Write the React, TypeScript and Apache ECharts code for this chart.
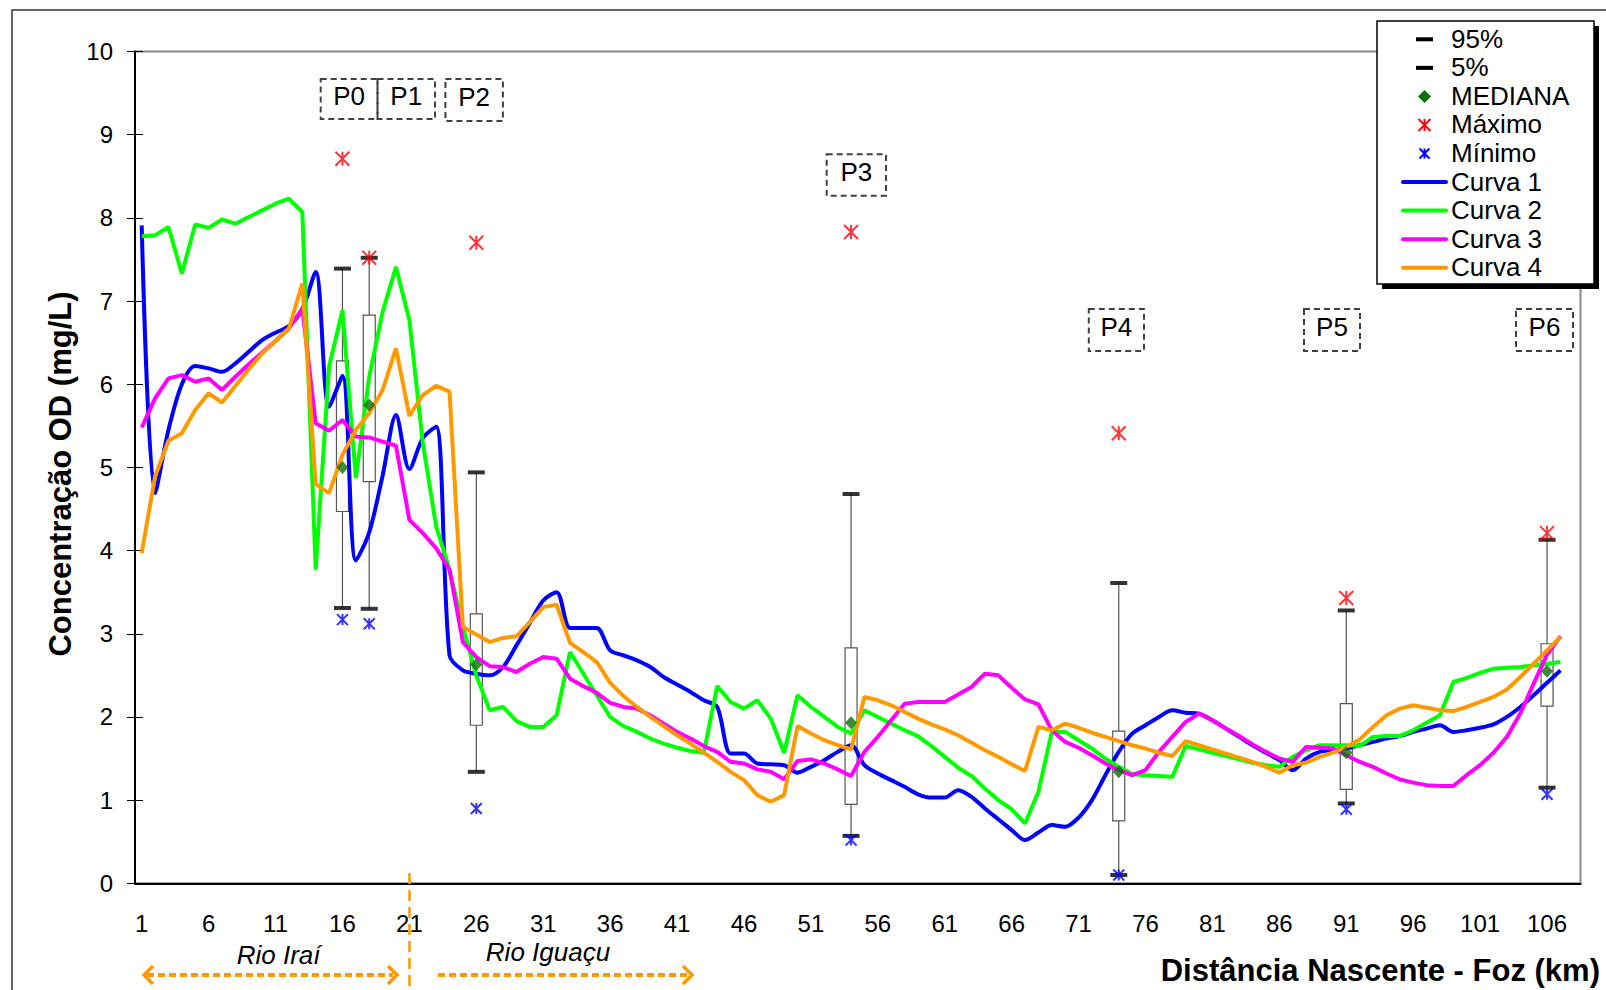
import React, { useEffect, useRef } from 'react';
import * as echarts from 'echarts';

// ---------- DATA ----------
const KM_CATEGORIES: string[] = Array.from({ length: 108 }, (_, i) => String(i + 1));

const CURVA_1 = [
  7.91, 4.69, 5.45, 6.0, 6.22, 6.19, 6.15, 6.25, 6.39, 6.53,
  6.62, 6.70, 6.90, 7.35, 5.73, 6.10, 3.88, 4.22, 4.90, 5.63,
  4.98, 5.35, 5.49, 2.74, 2.56, 2.52, 2.50, 2.60, 2.86, 3.13,
  3.40, 3.50, 3.07, 3.07, 3.07, 2.80, 2.74, 2.68, 2.60, 2.48,
  2.39, 2.30, 2.20, 2.12, 1.56, 1.56, 1.44, 1.43, 1.42, 1.33,
  1.40, 1.48, 1.58, 1.66, 1.42, 1.32, 1.24, 1.16, 1.07, 1.03,
  1.03, 1.12, 1.04, 0.90, 0.77, 0.64, 0.52, 0.61, 0.70, 0.68,
  0.79, 1.00, 1.30, 1.58, 1.80, 1.90, 2.00, 2.08, 2.05, 2.04,
  1.96, 1.86, 1.76, 1.66, 1.57, 1.48, 1.36, 1.50, 1.58, 1.60,
  1.62, 1.66, 1.70, 1.74, 1.77, 1.82, 1.86, 1.90, 1.82, 1.84,
  1.87, 1.91, 2.00, 2.12, 2.26, 2.41, 2.56,
];

const CURVA_2 = [
  7.78, 7.79, 7.89, 7.33, 7.92, 7.88, 7.98, 7.93, 8.01, 8.09,
  8.17, 8.23, 8.07, 3.77, 6.21, 6.89, 4.87, 6.09, 6.87, 7.41,
  6.77, 5.30, 4.29, 3.77, 3.08, 2.50, 2.08, 2.12, 1.95, 1.88,
  1.88, 2.02, 2.78, 2.52, 2.26, 2.00, 1.89, 1.82, 1.74, 1.68,
  1.63, 1.59, 1.57, 2.37, 2.18, 2.10, 2.20, 1.98, 1.57, 2.26,
  2.12, 2.00, 1.88, 1.80, 2.08, 2.00, 1.92, 1.84, 1.77, 1.65,
  1.52, 1.39, 1.29, 1.14, 1.00, 0.89, 0.72, 1.10, 1.82, 1.82,
  1.72, 1.62, 1.50, 1.40, 1.31, 1.30, 1.29, 1.28, 1.65, 1.61,
  1.57, 1.53, 1.49, 1.45, 1.42, 1.40, 1.52, 1.60, 1.66, 1.66,
  1.66, 1.65, 1.76, 1.77, 1.77, 1.84, 1.93, 2.02, 2.42, 2.47,
  2.53, 2.58, 2.59, 2.60, 2.62, 2.64, 2.66,
];

const CURVA_3 = [
  5.48, 5.83, 6.07, 6.11, 6.03, 6.07, 5.93, 6.09, 6.24, 6.38,
  6.52, 6.67, 6.91, 5.53, 5.44, 5.57, 5.37, 5.36, 5.31, 5.26,
  4.37, 4.21, 4.03, 3.77, 2.90, 2.72, 2.61, 2.60, 2.54, 2.64,
  2.72, 2.70, 2.46, 2.37, 2.29, 2.17, 2.12, 2.10, 2.02, 1.92,
  1.82, 1.74, 1.65, 1.58, 1.46, 1.44, 1.37, 1.34, 1.25, 1.47,
  1.49, 1.44, 1.37, 1.29, 1.58, 1.76, 1.96, 2.16, 2.18, 2.18,
  2.18, 2.27, 2.36, 2.52, 2.50, 2.35, 2.21, 2.15, 1.84, 1.70,
  1.63, 1.54, 1.44, 1.36, 1.30, 1.36, 1.58, 1.76, 1.94, 2.04,
  1.96, 1.86, 1.77, 1.67, 1.58, 1.50, 1.46, 1.64, 1.63, 1.62,
  1.54, 1.46, 1.40, 1.32, 1.25, 1.21, 1.18, 1.17, 1.17, 1.30,
  1.42, 1.57, 1.76, 2.04, 2.40, 2.75, 2.97,
];

const CURVA_4 = [
  3.97, 4.89, 5.32, 5.41, 5.69, 5.89, 5.78, 5.98, 6.18, 6.37,
  6.52, 6.67, 7.21, 4.80, 4.69, 5.15, 5.45, 5.65, 5.93, 6.43,
  5.62, 5.87, 5.98, 5.91, 3.08, 2.99, 2.90, 2.95, 2.97, 3.14,
  3.32, 3.35, 2.89, 2.78, 2.66, 2.41, 2.25, 2.12, 2.00, 1.89,
  1.78, 1.68, 1.57, 1.46, 1.34, 1.24, 1.06, 0.98, 1.06, 1.89,
  1.80, 1.72, 1.66, 1.61, 2.24, 2.20, 2.14, 2.06, 1.98, 1.91,
  1.85, 1.78, 1.69, 1.60, 1.52, 1.43, 1.35, 1.88, 1.84, 1.92,
  1.87, 1.81, 1.76, 1.71, 1.66, 1.62, 1.57, 1.53, 1.71, 1.66,
  1.61, 1.56, 1.51, 1.46, 1.40, 1.33, 1.42, 1.45, 1.52, 1.57,
  1.64, 1.73, 1.88, 2.02, 2.10, 2.14, 2.11, 2.08, 2.07, 2.12,
  2.18, 2.24, 2.33, 2.48, 2.64, 2.80, 2.96,
];

const STATIONS = ['16', '18', '26', '54', '74', '91', '106'];
const STATION_LABELS = ['P0', 'P1', 'P2', 'P3', 'P4', 'P5', 'P6'];
const P95 = [7.39, 7.52, 4.94, 4.68, 3.61, 3.28, 4.13];
const P5 = [3.31, 3.30, 1.34, 0.57, 0.10, 0.96, 1.15];
const Q1 = [4.47, 4.83, 1.90, 0.95, 0.75, 1.13, 2.13];
const Q3 = [6.28, 6.83, 3.24, 2.83, 1.83, 2.16, 2.88];
const MEDIANA = [5.0, 5.75, 2.63, 1.93, 1.34, 1.57, 2.55];
const MAXIMO = [8.71, 7.52, 7.70, 7.83, 5.41, 3.43, 4.21];
const MINIMO = [3.17, 3.12, 0.90, 0.52, 0.10, 0.89, 1.07];

const LEGEND_NAMES = ['95%', '5%', 'MEDIANA', 'Máximo', 'Mínimo', 'Curva 1', 'Curva 2', 'Curva 3', 'Curva 4'];

const Y_MIN = 0;
const Y_MAX = 10;

// ---------- STYLE ----------
const FONT = '"Liberation Sans", Arial, Helvetica, sans-serif';
const W = 1606;
const H = 990;
const GRID_LEFT = 135;
const GRID_RIGHT_X = 1580.5;
const GRID_TOP = 51.5;
const GRID_BOTTOM_Y = 883.3;
const GRID_W = GRID_RIGHT_X - GRID_LEFT;
const GRID_H = GRID_BOTTOM_Y - GRID_TOP;

const C_BLUE = '#0000FF';
const C_GREEN = '#00FF00';
const C_MAGENTA = '#FF00FF';
const C_ORANGE = '#FF9900';
const C_MED = '#0A6E0A';
const ASTERISK = 'path://M0,0L10,10M10,0L0,10M5,0L5,10';

function asteriskGraphic(cx: number, cy: number, s: number, color: string) {
  const h = s / 2;
  return [
    { type: 'line', z: 101, shape: { x1: cx - h, y1: cy - h, x2: cx + h, y2: cy + h }, style: { stroke: color, lineWidth: 2 } },
    { type: 'line', z: 101, shape: { x1: cx + h, y1: cy - h, x2: cx - h, y2: cy + h }, style: { stroke: color, lineWidth: 2 } },
    { type: 'line', z: 101, shape: { x1: cx, y1: cy - h, x2: cx, y2: cy + h }, style: { stroke: color, lineWidth: 2 } },
  ];
}

function textEl(text: string, x: number, y: number, font: string, align: string, valign: string, extra: any = {}) {
  return {
    type: 'text',
    x,
    y,
    z: 101,
    ...extra,
    style: {
      text,
      font,
      fill: '#000',
      align,
      verticalAlign: valign,
      textAlign: align,
      textVerticalAlign: valign,
    },
  };
}

function buildGraphic() {
  const els: any[] = [];
  // outer frame
  els.push({ type: 'rect', z: 0, silent: true, shape: { x: 12, y: 10, width: 1700, height: 1100 }, style: { fill: 'none', stroke: '#333', lineWidth: 1.5 } });

  // station annotation boxes
  const boxes = [
    [320.7, 79, 56.8, 40],
    [377.5, 79, 57.5, 40],
    [445.4, 79, 57.5, 42],
    [826.7, 154.3, 59.3, 41.4],
    [1088.8, 309, 55.2, 42],
    [1304, 309, 56, 42],
    [1516, 309, 57, 42],
  ];
  boxes.forEach((b, i) => {
    els.push({ type: 'rect', z: 50, shape: { x: b[0], y: b[1], width: b[2], height: b[3] }, style: { fill: 'none', stroke: '#404040', lineWidth: 2, lineDash: [6, 4] } });
    els.push(textEl(STATION_LABELS[i], b[0] + b[2] / 2, b[1] + b[3] / 2 - 3, `26px ${FONT}`, 'center', 'middle'));
  });

  // legend
  const LX = 1377, LY = 21, LW = 217, LH = 263;
  els.push({ type: 'rect', z: 99, shape: { x: LX + 5, y: LY + 5, width: LW, height: LH }, style: { fill: '#000' } });
  els.push({ type: 'rect', z: 100, shape: { x: LX, y: LY, width: LW, height: LH }, style: { fill: '#fff', stroke: '#000', lineWidth: 1.5 } });
  const rowY = LEGEND_NAMES.map((_, i) => 39.3 + 28.55 * i);
  const SX = 1424.5;
  LEGEND_NAMES.forEach((n, i) => {
    els.push(textEl(n, 1451, rowY[i] - 0.5, `26px ${FONT}`, 'left', 'middle'));
  });
  els.push({ type: 'rect', z: 101, shape: { x: SX - 8.5, y: rowY[0] - 2, width: 17, height: 4 }, style: { fill: '#000' } });
  els.push({ type: 'rect', z: 101, shape: { x: SX - 8.5, y: rowY[1] - 2, width: 17, height: 4 }, style: { fill: '#000' } });
  els.push({ type: 'polygon', z: 101, shape: { points: [[SX, rowY[2] - 6.5], [SX + 6.5, rowY[2]], [SX, rowY[2] + 6.5], [SX - 6.5, rowY[2]]] }, style: { fill: C_MED } });
  els.push(...asteriskGraphic(SX, rowY[3], 12, '#FF0000'));
  els.push(...asteriskGraphic(SX, rowY[4], 10, '#0000FF'));
  [C_BLUE, C_GREEN, C_MAGENTA, C_ORANGE].forEach((c, i) => {
    els.push({ type: 'line', z: 101, shape: { x1: 1403, y1: rowY[5 + i], x2: 1446, y2: rowY[5 + i] }, style: { stroke: c, lineWidth: 4, lineCap: 'round' } });
  });

  // river separator
  els.push({ type: 'line', z: 50, shape: { x1: 409.5, y1: 873, x2: 409.5, y2: 990 }, style: { stroke: C_ORANGE, lineWidth: 2.5, lineDash: [11, 6] } });
  // arrows
  els.push({ type: 'line', z: 50, shape: { x1: 147, y1: 975, x2: 393, y2: 975 }, style: { stroke: C_ORANGE, lineWidth: 4, lineDash: [7, 4] } });
  els.push({ type: 'polyline', z: 50, shape: { points: [[153, 966], [144, 975], [153, 984]] }, style: { stroke: C_ORANGE, lineWidth: 3.5, fill: 'none' } });
  els.push({ type: 'polyline', z: 50, shape: { points: [[388, 966], [397, 975], [388, 984]] }, style: { stroke: C_ORANGE, lineWidth: 3.5, fill: 'none' } });
  els.push({ type: 'line', z: 50, shape: { x1: 438, y1: 975, x2: 689, y2: 975 }, style: { stroke: C_ORANGE, lineWidth: 4, lineDash: [7, 4] } });
  els.push({ type: 'polyline', z: 50, shape: { points: [[683, 966], [692, 975], [683, 984]] }, style: { stroke: C_ORANGE, lineWidth: 3.5, fill: 'none' } });

  els.push(textEl('Rio Iraí', 278.6, 955, `italic 26px ${FONT}`, 'center', 'middle'));
  els.push(textEl('Rio Iguaçu', 548, 952, `italic 26px ${FONT}`, 'center', 'middle'));

  // axis titles
  els.push(textEl('Distância Nascente - Foz (km)', 1600, 970, `bold 31px ${FONT}`, 'right', 'middle'));
  els.push(textEl('Concentração OD (mg/L)', 60, 474, `bold 31px ${FONT}`, 'center', 'middle', { rotation: Math.PI / 2 }));
  return els;
}

function buildOption(): any {
  const boxData = STATIONS.map((s, i) => [s, P5[i], Q1[i], Q3[i], P95[i]]);
  const pair = (vals: number[]) => STATIONS.map((s, i) => [s, vals[i]]);
  const lineSeries = (name: string, data: number[], color: string, smooth: number | boolean) => ({
    name,
    type: 'line',
    data,
    xAxisIndex: 0,
    yAxisIndex: 0,
    smooth,
    symbol: 'none',
    showSymbol: false,
    z: 3,
    lineStyle: { color, width: 4 },
    itemStyle: { color },
  });
  const axisFont = { fontFamily: FONT, fontSize: 24, color: '#000' };

  return {
    animation: false,
    backgroundColor: '#fff',
    grid: {
      left: GRID_LEFT,
      top: GRID_TOP,
      width: GRID_W,
      height: GRID_H,
      show: true,
      borderColor: '#888',
      borderWidth: 2,
      backgroundColor: 'transparent',
    },
    xAxis: [
      {
        type: 'category',
        data: KM_CATEGORIES,
        boundaryGap: true,
        position: 'bottom',
        axisLine: { onZero: false, lineStyle: { color: '#000', width: 2 } },
        axisTick: { inside: true, interval: 24, length: 10, lineStyle: { color: '#000', width: 1 } },
        axisLabel: { interval: 4, margin: 28, ...axisFont },
        splitLine: { show: false },
      },
      {
        type: 'category',
        data: KM_CATEGORIES,
        boundaryGap: true,
        position: 'top',
        offset: -GRID_H,
        axisLine: { show: false, onZero: false },
        axisTick: { inside: true, interval: 24, length: 10, lineStyle: { color: '#000', width: 1 } },
        axisLabel: { show: false },
        splitLine: { show: false },
      },
    ],
    yAxis: [
      {
        type: 'value',
        min: Y_MIN,
        max: Y_MAX,
        interval: 1,
        position: 'left',
        axisLine: { show: true, onZero: false, lineStyle: { color: '#000', width: 2 } },
        axisTick: { show: true, inside: true, length: 8, lineStyle: { color: '#000', width: 1 } },
        axisLabel: { margin: 22, ...axisFont },
        splitLine: { show: false },
      },
      {
        type: 'value',
        min: Y_MIN,
        max: Y_MAX,
        interval: 1,
        position: 'right',
        offset: -GRID_W,
        axisLine: { show: false, onZero: false },
        axisTick: { show: true, inside: true, length: 8, lineStyle: { color: '#000', width: 1 } },
        axisLabel: { show: false },
        splitLine: { show: false },
      },
    ],
    series: [
      {
        name: 'box',
        type: 'custom',
        xAxisIndex: 0,
        yAxisIndex: 0,
        z: 1,
        encode: { x: 0, y: [1, 2, 3, 4] },
        data: boxData,
        renderItem: (params: any, api: any) => {
          const x = api.value(0);
          const lo = api.coord([x, api.value(1)]);
          const q1 = api.coord([x, api.value(2)]);
          const q3 = api.coord([x, api.value(3)]);
          const hi = api.coord([x, api.value(4)]);
          const bw = 12;
          return {
            type: 'group',
            children: [
              { type: 'line', shape: { x1: lo[0], y1: lo[1], x2: hi[0], y2: hi[1] }, style: { stroke: '#555', lineWidth: 1.2 } },
              { type: 'rect', shape: { x: q3[0] - bw / 2, y: q3[1], width: bw, height: q1[1] - q3[1] }, style: { fill: '#fff', stroke: '#555', lineWidth: 1.2 } },
            ],
          };
        },
      },
      lineSeries('Curva 1', CURVA_1, C_BLUE, 0.3),
      lineSeries('Curva 2', CURVA_2, C_GREEN, false),
      lineSeries('Curva 3', CURVA_3, C_MAGENTA, false),
      lineSeries('Curva 4', CURVA_4, C_ORANGE, false),
      {
        name: '95%', type: 'scatter', z: 5, data: pair(P95), symbol: 'rect', symbolSize: [17, 4],
        itemStyle: { color: '#000' },
      },
      {
        name: '5%', type: 'scatter', z: 5, data: pair(P5), symbol: 'rect', symbolSize: [17, 4],
        itemStyle: { color: '#000' },
      },
      {
        name: 'MEDIANA', type: 'scatter', z: 6, data: pair(MEDIANA), symbol: 'diamond', symbolSize: [12, 13],
        itemStyle: { color: C_MED },
      },
      {
        name: 'Máximo', type: 'scatter', z: 7, data: pair(MAXIMO), symbol: ASTERISK, symbolSize: 14,
        itemStyle: { color: '#FF0000', borderColor: '#FF0000', borderWidth: 2 },
      },
      {
        name: 'Mínimo', type: 'scatter', z: 7, data: pair(MINIMO), symbol: ASTERISK, symbolSize: 11,
        itemStyle: { color: '#0000FF', borderColor: '#0000FF', borderWidth: 2 },
      },
    ],
    graphic: buildGraphic(),
  };
}

export default function App() {
  const ref = useRef<HTMLDivElement>(null);
  useEffect(() => {
    if (!ref.current) return;
    const chart = echarts.init(ref.current, null, { renderer: 'svg' });
    chart.setOption(buildOption());
    return () => chart.dispose();
  }, []);
  return (
    <div
      ref={ref}
      style={{ position: 'fixed', left: 0, top: 0, width: W, height: H, background: '#fff' }}
    />
  );
}
